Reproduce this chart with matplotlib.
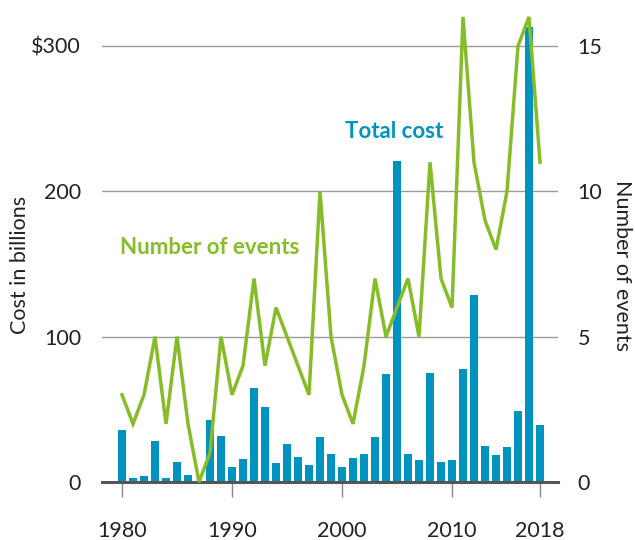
import matplotlib
matplotlib.use("Agg")
import matplotlib.pyplot as plt
import numpy as np

years = list(range(1980, 2019))
cost = [36, 2.6, 4, 28, 2.6, 13.5, 4.7, 1, 43, 31.5,
        10, 15.6, 65, 51.4, 13, 26, 17, 11.6, 30.8, 19.2,
        10.2, 16.4, 19.2, 30.8, 74, 221, 19.2, 15, 75, 13.5,
        15, 77.7, 128.4, 24.6, 18.5, 24, 48.8, 313, 39]
events = [3, 2, 3, 5, 2, 5, 2, 0, 1, 5,
          3, 4, 7, 4, 6, 5, 4, 3, 10, 5,
          3, 2, 4, 7, 5, 6, 7, 5, 11, 7,
          6, 16, 11, 9, 8, 10, 15, 16, 11]
left_ticks = [0, 100, 200, 300]
left_labels = ["0", "100", "200", "$300"]
right_ticks = [0, 5, 10, 15]
x_ticks = [1980, 1990, 2000, 2010, 2018]

BLUE = "#0093BF"
GREEN = "#86BC28"
TXT = "#222222"
FS = 15.5

plt.rcParams['font.family'] = ['Lato', 'DejaVu Sans']

fig = plt.figure(figsize=(6.35, 5.4), dpi=100)
W, H = 635, 540
ax_l, ax_r, ax_t, ax_b = 102, 558, 10, 482
ax = fig.add_axes([ax_l / W, 1 - ax_b / H, (ax_r - ax_l) / W, (ax_b - ax_t) / H])
top_val = (ax_b - ax_t) / ((ax_b - 46) / 300)

ax.bar(years, cost, width=0.7, color=BLUE, zorder=2)
ax.set_ylim(0, top_val)
ax.set_xlim(1980 - 20 / 11, 2018 + 18 / 11)

for t in left_ticks[1:]:
    ax.axhline(t, color="#9a9a9a", lw=1.0, zorder=1)
ax.axhline(0, color="#555555", lw=2.2, zorder=4, clip_on=False)

for s in ax.spines.values():
    s.set_visible(False)

ax.set_yticks(left_ticks)
ax.set_yticklabels(left_labels, fontsize=FS, color=TXT)
ax.tick_params(axis='y', length=0, pad=15)
ax.set_xticks(x_ticks)
ax.set_xticklabels([str(x) for x in x_ticks], fontsize=FS, color=TXT)
ax.tick_params(axis='x', length=11, width=1, color="#888888", pad=17)

ax2 = ax.twinx()
ax2.set_ylim(0, top_val / 20)
ax2.plot(years, events, color=GREEN, lw=2.5, zorder=5, clip_on=False,
         solid_joinstyle='miter')
for s in ax2.spines.values():
    s.set_visible(False)
ax2.set_yticks(right_ticks)
ax2.set_yticklabels([str(t) for t in right_ticks], fontsize=FS, color=TXT)
ax2.tick_params(axis='y', length=0, pad=14)

fig.text(20 / W, 1 - 265 / H, "Cost in billions", fontsize=FS, color=TXT,
         rotation=90, va='center', ha='center')
fig.text(622 / W, 1 - 266 / H, "Number of events", fontsize=FS, color=TXT,
         rotation=-90, va='center', ha='center')

fig.text(120 / W, 1 - 247 / H, "Number of events", fontsize=FS + 0.5,
         fontweight='bold', color=GREEN, va='center', ha='left')
fig.text(345 / W, 1 - 132 / H, "Total cost", fontsize=FS + 0.5,
         fontweight='bold', color=BLUE, va='center', ha='left')

fig.savefig("out.png", dpi=100)
